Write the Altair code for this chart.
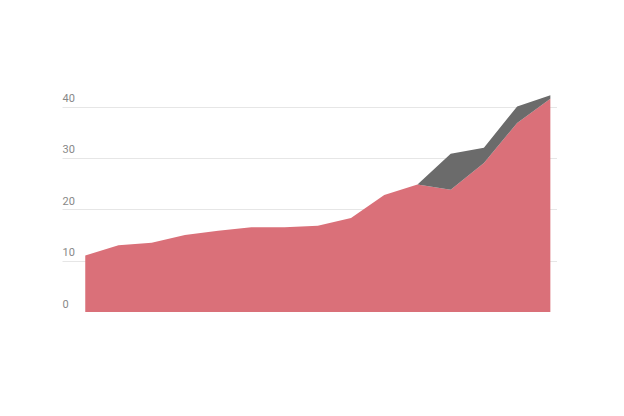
import altair as alt
import pandas as pd

years = list(range(2011, 2026))
base_vals = [11.0, 13.0, 13.5, 15.0, 15.8, 16.5, 16.5, 16.8, 18.3, 22.8, 24.8, 23.8, 29.0, 36.8, 41.5]
extra_vals = [0, 0, 0, 0, 0, 0, 0, 0, 0, 0, 0, 7.0, 3.0, 3.2, 0.7]

rows = []
for y, b, e in zip(years, base_vals, extra_vals):
    rows.append({"year": y, "series": "A", "order": 0, "value": b})
    rows.append({"year": y, "series": "B", "order": 1, "value": e})
df = pd.DataFrame(rows)

chart = alt.Chart(df).mark_area(opacity=1, interpolate="linear").encode(
    x=alt.X("year:Q", scale=alt.Scale(domain=[2010.3, 2025.2], nice=False, zero=False),
            axis=alt.Axis(values=[2013, 2016, 2019, 2022, 2025], format="d", title=None,
                          grid=False, ticks=False, domainColor="#333333", domainWidth=1,
                          labelColor="#777777", labelFontWeight="bold", labelFontSize=11,
                          labelFont="Roboto", labelPadding=6, labelFlush=False)),
    y=alt.Y("value:Q", stack="zero", scale=alt.Scale(domain=[0, 44], nice=False),
            axis=alt.Axis(values=[0, 10, 20, 30, 40], title=None, domain=False, ticks=False,
                          gridColor="#e6e6e6", labelAlign="left", labelBaseline="bottom",
                          labelPadding=0, labelOffset=-3, labelColor="#888888",
                          labelFontSize=11, labelFont="Roboto")),
    color=alt.Color("series:N", scale=alt.Scale(domain=["A", "B"], range=["#da7079", "#6b6b6b"]),
                    legend=None),
    order=alt.Order("order:Q"),
).properties(
    width=495, height=226,
    autosize=alt.AutoSizeParams(type="none"),
    padding={"left": 54, "top": 78, "right": 0, "bottom": 0},
).configure_view(stroke=None)

chart.save("out.html", embed_options={"renderer": "svg", "actions": False})
